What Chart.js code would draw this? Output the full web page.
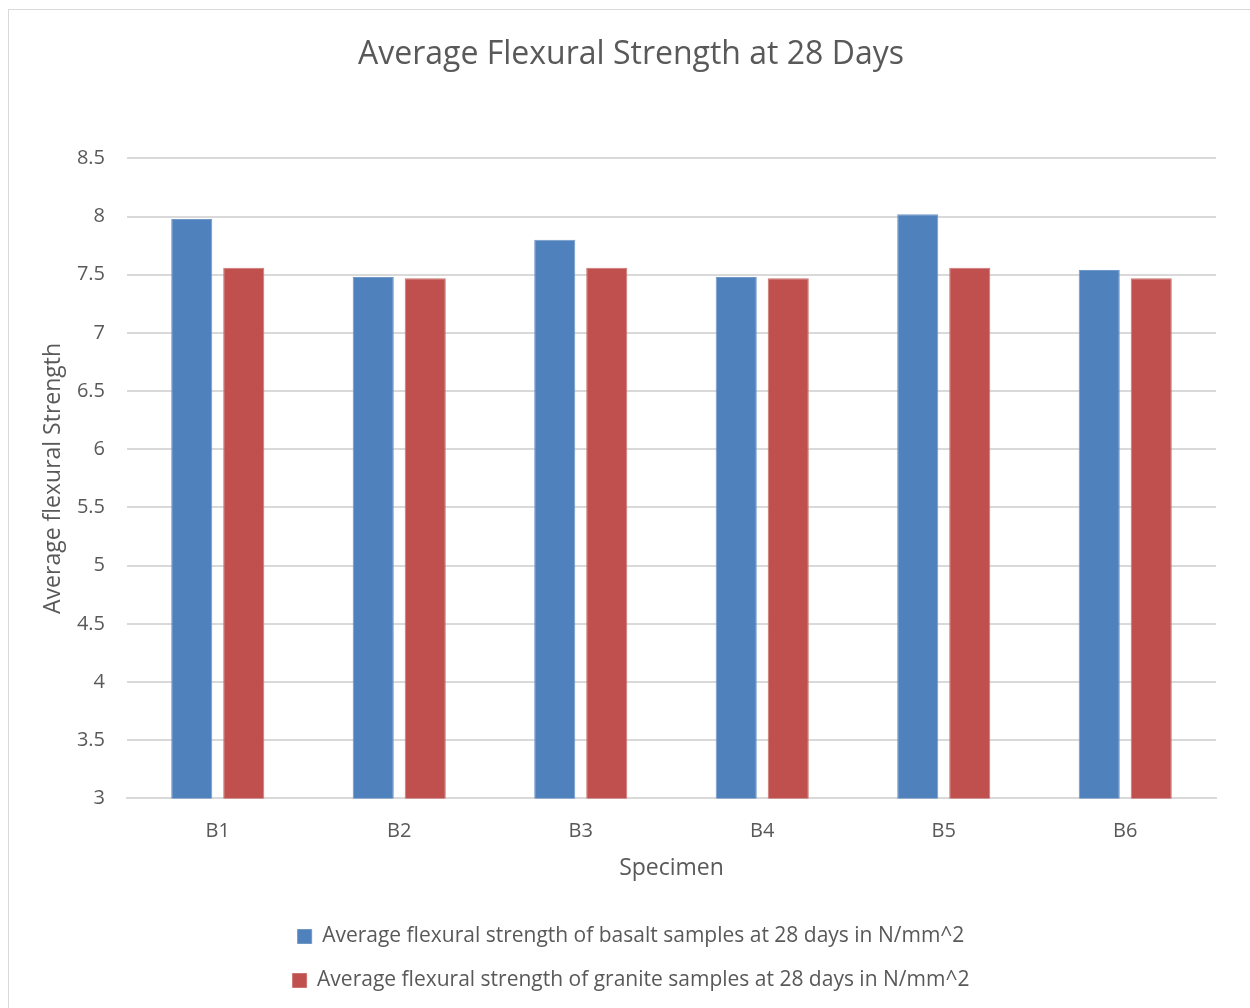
<!DOCTYPE html>
<html>
<head>
<meta charset="utf-8">
<script src="https://cdn.jsdelivr.net/npm/chart.js@4"></script>
<style>
  html, body { margin: 0; padding: 0; background: #fff; }
  #wrap { position: relative; width: 1250px; height: 1008px; }
  #frame { position: absolute; left: 8px; top: 9px; width: 1260px; height: 1010px; border: 1px solid #d9d9d9; box-sizing: border-box; }
  canvas { position: absolute; left: 0; top: 0; }
</style>
</head>
<body>
<div id="wrap">
  <div id="frame"></div>
  <canvas id="chart" width="1250" height="1008"></canvas>
</div>
<script>
const specimens = ["B1", "B2", "B3", "B4", "B5", "B6"];
const basalt = [7.98, 7.48, 7.80, 7.48, 8.02, 7.54];
const granite = [7.56, 7.47, 7.56, 7.47, 7.56, 7.47];
const seriesNames = [
    "Average flexural strength of basalt samples at 28 days in N/mm^2",
    "Average flexural strength of granite samples at 28 days in N/mm^2"
];
const yMin = 3, yMax = 8.5, yStep = 0.5;

const textColor = "#595959";
const gridColor = "#d9d9d9";
const fontFamily = "'Open Sans', 'Noto Sans', sans-serif";

const ctx = document.getElementById("chart");
new Chart(ctx, {
    type: "bar",
    data: {
        labels: specimens,
        datasets: [
            { label: seriesNames[0], data: basalt, backgroundColor: "#4F81BD", borderColor: "#6f98c8", borderWidth: 1 },
            { label: seriesNames[1], data: granite, backgroundColor: "#C0504D", borderColor: "#cc7472", borderWidth: 1 }
        ]
    },
    options: {
        responsive: false,
        animation: false,
        devicePixelRatio: 1,
        categoryPercentage: 0.573,
        barPercentage: 0.79,
        layout: { padding: { left: 30, right: 18, top: 20, bottom: 7 } },
        plugins: {
            title: {
                display: true,
                text: "Average Flexural Strength at 28 Days",
                color: textColor,
                font: { family: fontFamily, size: 32, weight: "normal" },
                padding: { top: 16, bottom: 84 }
            },
            legend: {
                position: "bottom",
                labels: {
                    color: textColor,
                    font: { family: fontFamily, size: 21 },
                    boxWidth: 14,
                    boxHeight: 14,
                    padding: 23
                }
            },
            tooltip: { enabled: false }
        },
        scales: {
            x: {
                grid: { display: false },
                border: { color: gridColor, width: 2 },
                ticks: { color: textColor, font: { family: fontFamily, size: 20 }, padding: 13 },
                title: {
                    display: true,
                    text: "Specimen",
                    color: textColor,
                    font: { family: fontFamily, size: 23 },
                    padding: { top: -2, bottom: 21 }
                }
            },
            y: {
                min: yMin,
                max: yMax,
                grid: { color: gridColor, lineWidth: 2, drawTicks: false },
                border: { display: false },
                ticks: {
                    stepSize: yStep,
                    color: textColor,
                    font: { family: fontFamily, size: 20 },
                    padding: 22,
                    callback: (v) => String(Math.round(v * 10) / 10)
                },
                title: {
                    display: true,
                    text: "Average flexural Strength",
                    color: textColor,
                    font: { family: fontFamily, size: 23 },
                    padding: { top: 10, bottom: 10 }
                },
                afterFit: (scale) => { scale.width = 97; }
            },
            // empty spacer on the right so the title and legend stay centred on the frame
            spacer: {
                type: "linear",
                position: "right",
                display: true,
                grid: { display: false },
                border: { display: false },
                ticks: { display: false },
                afterFit: (scale) => { scale.width = 16; }
            }
        }
    }
});
</script>
</body>
</html>
